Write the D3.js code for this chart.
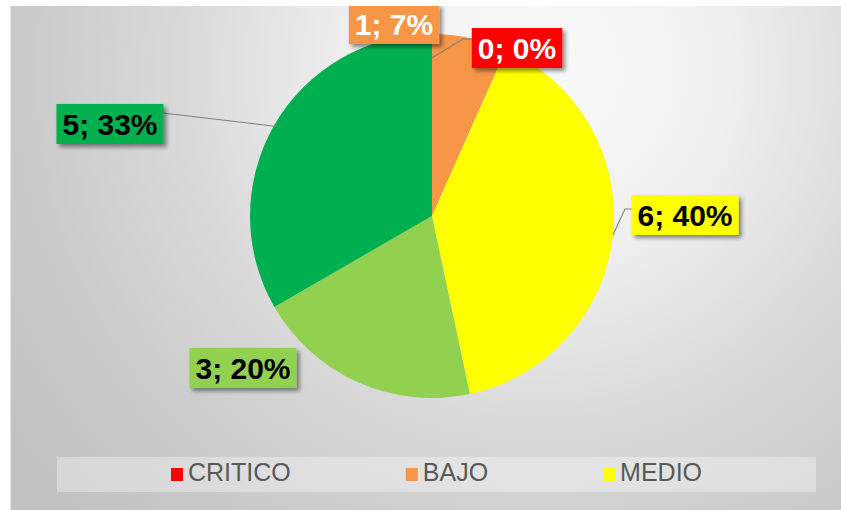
<!DOCTYPE html>
<html>
<head>
<meta charset="utf-8">
<script src="https://cdn.jsdelivr.net/npm/d3@7"></script>
<style>
  html, body { margin: 0; padding: 0; background: #ffffff; }
  svg { display: block; }
</style>
</head>
<body>
<svg id="chart" width="841" height="510"></svg>
<script>
// ---- data ----
const categories = ["CRITICO", "BAJO", "MEDIO", "ALTO", "MUY ALTO"];
const values = [0, 1, 6, 3, 5];
const percentLabels = ["0%", "7%", "40%", "20%", "33%"];
const legendShown = ["CRITICO", "BAJO", "MEDIO"];

// ---- styles / layout ----
const colors = ["#FF0000", "#F79646", "#FFFF00", "#92D050", "#00B050"];
const labelTextColors = ["#ffffff", "#ffffff", "#000000", "#000000", "#000000"];
// label box centre offsets relative to pie centre, in pixels
const labelOffsets = [[85, -168], [-38, -192], [253, -1], [-189, 152], [-322, -92]];

const W = 841, H = 510;
const svg = d3.select("#chart");
const defs = svg.append("defs");

const grad = defs.append("radialGradient")
  .attr("id", "bg").attr("gradientUnits", "userSpaceOnUse")
  .attr("cx", 540).attr("cy", 70).attr("r", 640);
[[0, "#fafafa"], [0.3, "#efefef"], [0.55, "#dadada"], [0.8, "#cacaca"], [1, "#c2c2c2"]]
  .forEach(([o, c]) => grad.append("stop").attr("offset", o).attr("stop-color", c));

const shadow = defs.append("filter").attr("id", "shadow")
  .attr("x", "-20%").attr("y", "-30%").attr("width", "150%").attr("height", "170%");
shadow.append("feDropShadow").attr("dx", 3).attr("dy", 3).attr("stdDeviation", 2)
  .attr("flood-color", "#000").attr("flood-opacity", 0.45);

const clip = defs.append("clipPath").attr("id", "area");
clip.append("rect").attr("x", 10).attr("y", 6).attr("width", W - 10).attr("height", H - 6);

const root = svg.append("g").attr("clip-path", "url(#area)");
root.append("rect").attr("x", 10).attr("y", 6).attr("width", W - 10).attr("height", H - 6)
  .attr("fill", "url(#bg)");
root.append("line").attr("x1", 10.5).attr("x2", 10.5).attr("y1", 6).attr("y2", H)
  .attr("stroke", "#e6e6e6").attr("stroke-width", 1);

// ---- pie ----
const cx = 432, cy = 216, R = 182;
const pie = d3.pie().sort(null).value(d => d.value).startAngle(0).endAngle(2 * Math.PI);
const data = categories.map((c, i) => ({ name: c, value: values[i], i }));
const arcs = pie(data);
const arc = d3.arc().innerRadius(0).outerRadius(R);

const g = root.append("g").attr("transform", `translate(${cx},${cy})`);
g.selectAll("path.slice").data(arcs).join("path")
  .attr("class", "slice")
  .attr("d", arc)
  .attr("fill", d => colors[d.data.i]);

// ---- leader lines ----
function polar(angle, rad) { return [Math.sin(angle) * rad, -Math.cos(angle) * rad]; }
const midA = d => (d.startAngle + d.endAngle) / 2;
const leaders = [];
// CRITICO (zero slice)
{
  const d = arcs[0], [ox, oy] = labelOffsets[0];
  const p0 = polar(midA(d), R * 0.87);
  const bx = ox - 44;
  leaders.push([p0, [bx - 10, oy - 9], [bx, oy - 9]]);
}
// MEDIO
{
  const d = arcs[2], [ox, oy] = labelOffsets[2];
  const p0 = polar(midA(d), R);
  const bx = ox - 53;
  leaders.push([p0, [bx - 7, oy - 6], [bx, oy - 6]]);
}
// MUY ALTO
{
  const d = arcs[4], [ox, oy] = labelOffsets[4];
  const p0 = polar(midA(d), R - 3);
  const bx = ox + 53;
  leaders.push([[bx, oy - 11], p0]);
}
g.selectAll("path.leader").data(leaders).join("path")
  .attr("class", "leader")
  .attr("d", d => d3.line()(d))
  .attr("fill", "none").attr("stroke", "#7f7f7f").attr("stroke-width", 1.1);

// ---- data labels ----
const lab = g.selectAll("g.lab").data(arcs).join("g")
  .attr("class", "lab")
  .attr("transform", d => `translate(${labelOffsets[d.data.i][0]},${labelOffsets[d.data.i][1]})`);
lab.each(function (d) {
  const sel = d3.select(this);
  const t = sel.append("text")
    .attr("text-anchor", "middle").attr("dy", "0.36em")
    .attr("font-family", "'Liberation Sans', Arial, sans-serif")
    .attr("font-weight", "bold").attr("font-size", 30)
    .attr("fill", labelTextColors[d.data.i])
    .text(`${d.data.value}; ${percentLabels[d.data.i]}`);
  const bb = t.node().getBBox();
  sel.insert("rect", "text")
    .attr("x", bb.x - 6).attr("y", -20)
    .attr("width", bb.width + 12).attr("height", 40)
    .attr("fill", colors[d.data.i])
    .attr("filter", "url(#shadow)");
});

// ---- legend ----
root.append("rect").attr("x", 57).attr("y", 457).attr("width", 759).attr("height", 35)
  .attr("fill", "#ffffff").attr("fill-opacity", 0.35);
const legend = root.append("g");
let lx = 171;
legendShown.forEach(name => {
  const i = categories.indexOf(name);
  const item = legend.append("g").attr("transform", `translate(${lx},0)`);
  item.append("rect").attr("x", 0).attr("y", 468).attr("width", 12).attr("height", 13)
    .attr("fill", colors[i]);
  const t = item.append("text").attr("x", 17).attr("y", 481)
    .attr("font-family", "'Liberation Sans', Arial, sans-serif")
    .attr("font-size", 25).attr("fill", "#595959").text(name);
  lx += 17 + t.node().getComputedTextLength() + 115;
});
</script>
</body>
</html>
